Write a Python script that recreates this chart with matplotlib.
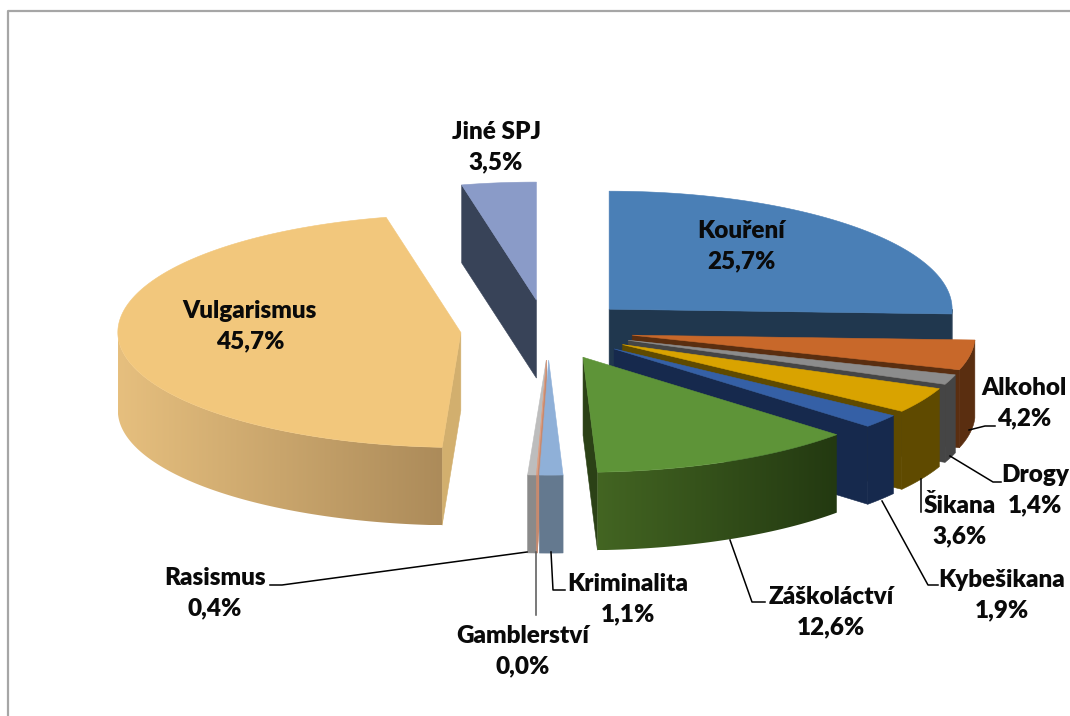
"""Exploded 3D pie of pupil risk behaviour, projected by hand onto a pixel-sized axes."""
import numpy as np
import matplotlib
matplotlib.use("Agg")
import matplotlib.pyplot as plt
from matplotlib.colors import to_rgb
from matplotlib.patches import Polygon

labels = ["Kouření", "Alkohol", "Drogy", "Šikana", "Kybešikana", "Záškoláctví",
          "Kriminalita", "Gamblerství", "Rasismus", "Vulgarismus", "Jiné SPJ"]
# Gamblerství is printed as 0,0 % but still has a visible sliver
values = [25.7, 4.2, 1.4, 3.6, 1.9, 12.6, 1.1, 0.04, 0.4, 45.7, 3.5]

top_colors = ["#4A7FB6", "#C8682A", "#8C8C8C", "#D9A300", "#3560A6", "#5E9438",
              "#8FB0D8", "#E2A184", "#BDBDBD", "#F2C77C", "#8A9BC8"]
side_colors = ["#20374E", "#5A2E10", "#454545", "#5F4A00", "#16294D", "#2B4116",
               "#64798F", "#C98A6E", "#8A8A8A", "#D2AF6E", "#384358"]
# wall gradient, left to right, where the wall is not a flat colour
wall_gradient = {"Záškoláctví": ("#436522", "#233911"),
                 "Vulgarismus": ("#E6BF7E", "#AC8B5A")}
# the source's perspective pushes the front slivers a little to the right
x_nudge = {"Kriminalita": 2, "Gamblerství": 3, "Rasismus": 4, "Vulgarismus": 2}

CX, CY = 546, 330
RX = 343
RY_BACK, RY_FRONT = 118, 115
DEPTH = 78
EXPLODE = 0.255


def outer(center, t):
    r = np.radians(t)
    c = np.cos(r)
    ry = RY_BACK if c > 0 else RY_FRONT
    return center[0] + RX * np.sin(r), center[1] - ry * c


def arc(center, t0, t1):
    ts = np.linspace(t0, t1, max(int(abs(t1 - t0) * 2), 2))
    return [outer(center, t) for t in ts]


def poly(ax, pts, color, z):
    p = Polygon(pts, closed=True, fc=color, ec=color, lw=0.4, zorder=z)
    ax.add_patch(p)
    return p


def draw_wall(ax, center, t0, t1, name, color, z):
    pts = arc(center, t0, t1)
    low = [(x, y + DEPTH) for x, y in reversed(pts)]
    if name not in wall_gradient:
        poly(ax, pts + low, color, z)
        return
    c_left, c_right = (np.array(to_rgb(c)) for c in wall_gradient[name])
    xs = [p[0] for p in pts]
    ys = [p[1] for p in pts + low]
    ramp = np.linspace(c_left, c_right, 256)[None, :, :]
    im = ax.imshow(ramp, extent=[min(xs), max(xs), max(ys), min(ys)], aspect="auto", zorder=z)
    clip = Polygon(pts + low, closed=True, transform=ax.transData)
    im.set_clip_path(clip)


def draw_slice(ax, name, t0, t1, top, side, z):
    mid = np.radians((t0 + t1) / 2)
    center = (CX + EXPLODE * RX * np.sin(mid) + x_nudge.get(name, 0),
              CY - EXPLODE * RY_BACK * np.cos(mid))
    base = (center[0], center[1] + DEPTH)
    # only the cut faces turned towards the viewer
    if t1 < 180:
        p = outer(center, t1)
        poly(ax, [center, p, (p[0], p[1] + DEPTH), base], side, z)
    if t0 > 180:
        p = outer(center, t0)
        poly(ax, [center, p, (p[0], p[1] + DEPTH), base], side, z)
    w0, w1 = max(t0, 90), min(t1, 270)
    if w1 > w0:
        draw_wall(ax, center, w0, w1, name, side, z)
    poly(ax, [center] + arc(center, t0, t1), top, z + 0.5)


fig = plt.figure(figsize=(10.7, 7.16), dpi=100)
ax = fig.add_axes([0, 0, 1, 1])
ax.axis("off")

# chart frame
ax.plot([8, 8, 1070], [716, 11, 11], color="#A6A6A6", lw=1.6, zorder=0)

edges = np.cumsum([0] + values) / sum(values) * 360
centers_y = [CY - EXPLODE * RY_BACK * np.cos(np.radians((a + b) / 2))
             for a, b in zip(edges[:-1], edges[1:])]
order = np.argsort(centers_y)
for z, i in enumerate(order, start=1):
    draw_slice(ax, labels[i], edges[i], edges[i + 1], top_colors[i], side_colors[i], z)

ax.set_xlim(0, 1070)
ax.set_ylim(716, 0)
ax.set_aspect("auto")

label_pos = {"Kouření": (741, 246), "Alkohol": (1024, 403), "Drogy": (1035, 490),
             "Šikana": (960, 521), "Kybešikana": (1002, 595), "Záškoláctví": (831, 612),
             "Kriminalita": (628, 599), "Gamblerství": (523, 651), "Rasismus": (215, 593),
             "Vulgarismus": (250, 326), "Jiné SPJ": (496, 147)}
for name, v in zip(labels, values):
    x, y = label_pos[name]
    pct = f"{v:.1f}".replace(".", ",") + "%"
    ax.text(x, y, f"{name}\n{pct}", ha="center", va="center", family="Lato",
            fontweight="heavy", fontsize=17.5, linespacing=1.46, color="#0A0A0A", zorder=50)

leaders = [([270, 282, 527], [585, 585, 552], "black"),
           ([536, 536], [552, 615], "#555555"),
           ([551, 553, 565], [552, 590, 590], "black"),
           ([730, 752, 765], [540, 602, 602], "black"),
           ([882, 928, 938], [501, 585, 585], "black"),
           ([921, 921], [479, 512], "black"),
           ([950, 993, 1001], [456, 482, 482], "black"),
           ([969, 985, 995], [430, 426, 426], "black")]
for xs, ys, col in leaders:
    ax.plot(xs, ys, color=col, lw=1.1, zorder=40)

fig.savefig("out.png", dpi=100)
